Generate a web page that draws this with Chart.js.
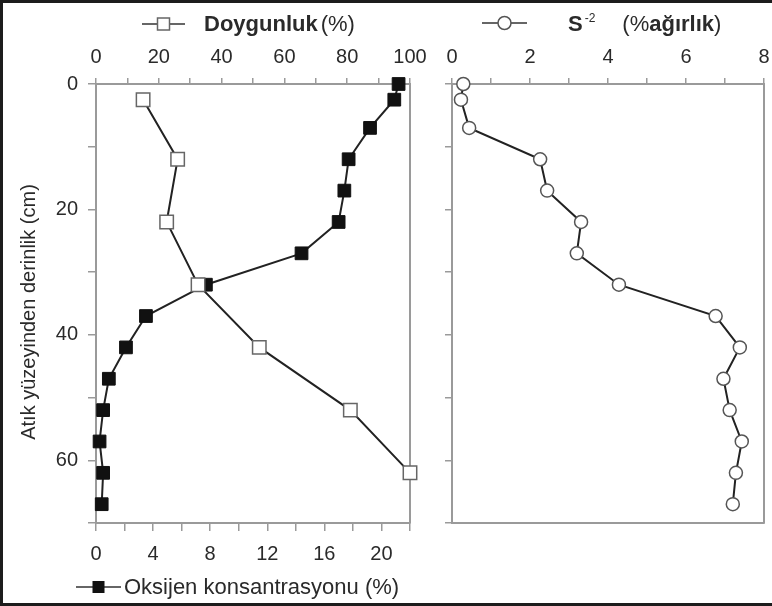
<!DOCTYPE html>
<html>
<head>
<meta charset="utf-8">
<script src="https://cdn.jsdelivr.net/npm/chart.js@4/dist/chart.umd.min.js"></script>
<style>
body { margin: 0; background: #fff; }
#wrap { position: relative; width: 772px; height: 606px; overflow: hidden; }
#frame { position: absolute; left: 0; top: 0; width: 772px; height: 606px; box-sizing: border-box;
         border: 3px solid #1c1c1c; border-right: none; pointer-events: none; }
#leftChart { position: absolute; left: 0; top: 0; }
#rightChart { position: absolute; left: 430px; top: 0; }
</style>
</head>
<body>
<div id="wrap">
<canvas id="leftChart" width="430" height="606"></canvas>
<canvas id="rightChart" width="342" height="606"></canvas>
<div id="frame"></div>
</div>
<script>
// depth below waste surface (cm)
var depths = [0, 2.5, 7, 12, 17, 22, 27, 32, 37, 42, 47, 52, 57, 62, 67];
var oksijen = [21.2, 20.9, 19.2, 17.7, 17.4, 17.0, 14.4, 7.7, 3.5, 2.1, 0.9, 0.5, 0.25, 0.5, 0.4];
var sulfur = [0.29, 0.23, 0.44, 2.26, 2.44, 3.31, 3.2, 4.28, 6.76, 7.38, 6.96, 7.12, 7.43, 7.28, 7.2];

var doyDepths = [2.5, 12, 22, 32, 42, 52, 62];
var doygunluk = [15, 26, 22.5, 32.5, 52, 81, 100];

var doyTicks = [0, 20, 40, 60, 80, 100];
var oksTicks = [0, 4, 8, 12, 16, 20];
var sTicks = [0, 2, 4, 6, 8];
var depthTicks = [0, 20, 40, 60];

var FONT = "'Liberation Sans', Arial, sans-serif";
var AXIS = '#9a9a9a';
var TEXT = '#2a2a2a';

function toPoints(xs, ys) {
    var pts = [];
    for (let i in xs) {
        pts.push({ x: xs[i], y: ys[i] });
    }
    return pts;
}

function labelIf(list) {
    return function (v) { return list.indexOf(v) >= 0 ? String(v) : ''; };
}

// fixed box size, no extra room for overhanging labels
function fixSize(w, h) {
    return function (s) {
        if (w !== null) s.width = w;
        if (h !== null) s.height = h;
        s.paddingLeft = 0;
        s.paddingRight = 0;
        s.paddingTop = 0;
        s.paddingBottom = 0;
    };
}

function axis(extra) {
    var base = {
        type: 'linear',
        ticks: { autoSkip: false, maxRotation: 0, minRotation: 0, color: TEXT, font: { family: FONT, size: 20 }, padding: 10 },
        grid: { drawOnChartArea: false, tickLength: 7, color: AXIS, lineWidth: 1.5 },
        border: { color: AXIS, width: 2 }
    };
    for (var k in extra) {
        if (typeof extra[k] === 'object' && base[k]) {
            for (var j in extra[k]) base[k][j] = extra[k][j];
        } else {
            base[k] = extra[k];
        }
    }
    return base;
}

function glyph(ctx, x1, x2, y, shape) {
    ctx.save();
    ctx.strokeStyle = '#333';
    ctx.lineWidth = 1.5;
    ctx.beginPath();
    ctx.moveTo(x1, y);
    ctx.lineTo(x2, y);
    ctx.stroke();
    var cx = (x1 + x2) / 2;
    if (shape === 'open') {
        ctx.fillStyle = '#fff';
        ctx.strokeStyle = '#666';
        ctx.fillRect(cx - 6, y - 6, 12, 12);
        ctx.strokeRect(cx - 6, y - 6, 12, 12);
    } else if (shape === 'filled') {
        ctx.fillStyle = '#111';
        ctx.fillRect(cx - 6, y - 6, 12, 12);
    } else {
        ctx.fillStyle = '#fff';
        ctx.strokeStyle = '#555';
        ctx.beginPath();
        ctx.arc(cx, y, 6.5, 0, Math.PI * 2);
        ctx.fill();
        ctx.stroke();
    }
    ctx.restore();
}

function runs(ctx, x, y, parts) {
    ctx.save();
    ctx.textBaseline = 'middle';
    ctx.fillStyle = TEXT;
    for (var i = 0; i < parts.length; i++) {
        var p = parts[i];
        ctx.font = (p.bold ? 'bold ' : '') + p.size + 'px ' + FONT;
        ctx.fillText(p.text, x, y + (p.dy || 0));
        x += ctx.measureText(p.text).width + (p.gap || 0);
    }
    ctx.restore();
}

var leftText = {
    id: 'leftText',
    afterDraw: function (chart) {
        var ctx = chart.ctx;
        glyph(ctx, 142, 185, 24, 'open');
        runs(ctx, 204, 25, [
            { text: 'Doygunluk', bold: true, size: 22, gap: 3 },
            { text: '(%)', size: 22 }
        ]);
        glyph(ctx, 76, 121, 587, 'filled');
        runs(ctx, 124, 588, [{ text: 'Oksijen konsantrasyonu (%)', size: 22 }]);
        ctx.save();
        ctx.translate(29, 312);
        ctx.rotate(-Math.PI / 2);
        ctx.textAlign = 'center';
        ctx.textBaseline = 'middle';
        ctx.fillStyle = TEXT;
        ctx.font = '20px ' + FONT;
        ctx.fillText('Atık yüzeyinden derinlik (cm)', 0, 0);
        ctx.restore();
    }
};

var rightText = {
    id: 'rightText',
    afterDraw: function (chart) {
        var ctx = chart.ctx;
        glyph(ctx, 52, 97, 23, 'circle');
        runs(ctx, 138, 25, [
            { text: 'S', bold: true, size: 22, gap: 2 },
            { text: '-2', size: 12, dy: -6, gap: 27 },
            { text: '(%', size: 22 },
            { text: 'ağırlık', bold: true, size: 22 },
            { text: ')', size: 22 }
        ]);
    }
};

var ctx = document.getElementById('leftChart').getContext('2d');
var ctxRight = document.getElementById('rightChart').getContext('2d');

var leftChart = new Chart(ctx, {
    type: 'scatter',
    data: {
        datasets: [{
            label: 'Doygunluk (%)',
            data: toPoints(doygunluk, doyDepths),
            xAxisID: 'xTop',
            yAxisID: 'y',
            showLine: true,
            borderColor: '#222',
            borderWidth: 2,
            pointStyle: 'rect',
            pointRadius: 9.5,
            pointBackgroundColor: '#fff',
            pointBorderColor: '#666',
            pointBorderWidth: 1.5,
            clip: false
        }, {
            label: 'Oksijen konsantrasyonu (%)',
            data: toPoints(oksijen, depths),
            xAxisID: 'xBot',
            yAxisID: 'y',
            showLine: true,
            borderColor: '#222',
            borderWidth: 2,
            pointStyle: 'rect',
            pointRadius: 9,
            pointBackgroundColor: '#111',
            pointBorderColor: '#111',
            pointBorderWidth: 1,
            clip: false
        }]
    },
    options: {
        responsive: false,
        animation: false,
        layout: { padding: { left: 0, right: 20, top: 0, bottom: 0 } },
        plugins: { legend: { display: false }, tooltip: { enabled: false } },
        scales: {
            y: axis({
                position: 'left', reverse: true, min: 0, max: 70,
                ticks: { stepSize: 10, callback: labelIf(depthTicks) },
                grid: { tickLength: 8 },
                afterFit: fixSize(96, null)
            }),
            yEdge: axis({
                position: 'right', min: 0, max: 70,
                ticks: { display: false },
                grid: { display: false },
                afterFit: fixSize(0, null)
            }),
            xTop: axis({
                position: 'top', min: 0, max: 100,
                ticks: { stepSize: 10, callback: labelIf(doyTicks), padding: 9 },
                grid: { tickLength: 6 },
                afterFit: fixSize(null, 84)
            }),
            xBot: axis({
                position: 'bottom', min: 0, max: 22,
                ticks: { stepSize: 2, callback: labelIf(oksTicks), padding: 11 },
                grid: { tickLength: 8 },
                afterFit: fixSize(null, 83)
            })
        }
    },
    plugins: [leftText]
});

var rightChart = new Chart(ctxRight, {
    type: 'scatter',
    data: {
        datasets: [{
            label: 'S-2 (%ağırlık)',
            data: toPoints(sulfur, depths),
            xAxisID: 'xTop',
            yAxisID: 'y',
            showLine: true,
            borderColor: '#222',
            borderWidth: 2,
            pointStyle: 'circle',
            pointRadius: 6.5,
            pointBackgroundColor: '#fff',
            pointBorderColor: '#555',
            pointBorderWidth: 1.5,
            clip: false
        }]
    },
    options: {
        responsive: false,
        animation: false,
        layout: { padding: { left: 0, right: 7, top: 0, bottom: 0 } },
        plugins: { legend: { display: false }, tooltip: { enabled: false } },
        scales: {
            y: axis({
                position: 'left', reverse: true, min: 0, max: 70,
                ticks: { stepSize: 10, callback: function () { return ''; }, padding: 0 },
                grid: { tickLength: 7 },
                afterFit: fixSize(22, null)
            }),
            yEdge: axis({
                position: 'right', min: 0, max: 70,
                ticks: { display: false },
                grid: { display: false },
                afterFit: fixSize(0, null)
            }),
            xTop: axis({
                position: 'top', min: 0, max: 8,
                ticks: { stepSize: 1, callback: labelIf(sTicks), padding: 9 },
                grid: { tickLength: 6 },
                afterFit: fixSize(null, 84)
            }),
            xBot: axis({
                position: 'bottom', min: 0, max: 8,
                ticks: { display: false },
                grid: { display: false },
                afterFit: fixSize(null, 83)
            })
        }
    },
    plugins: [rightText]
});
</script>
</body>
</html>
